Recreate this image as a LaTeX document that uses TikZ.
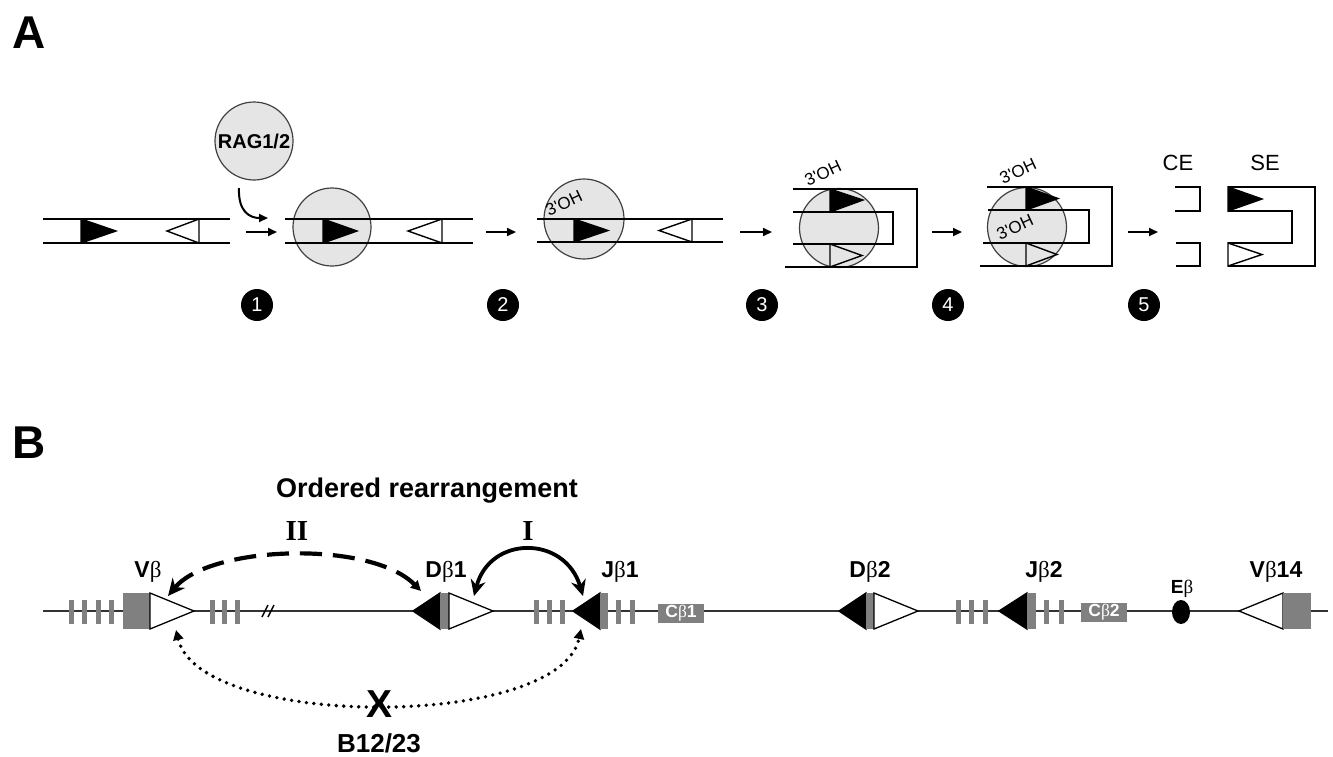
\documentclass[tikz,border=0pt]{standalone}
\usepackage{fontspec}
\setmainfont{Liberation Sans}
\newfontfamily\grk{Liberation Serif}
\usetikzlibrary{arrows.meta,shapes.geometric}
\newcommand\bt{{\grk\mdseries β}}
\definecolor{ragfill}{gray}{0.9}
\definecolor{segray}{gray}{0.5}
\tikzset{
  dna/.style={line width=2.2pt, line join=miter},
  rag/.style={circle, draw=black!75, fill=ragfill, line width=1.2pt, minimum size=#1, inner sep=0pt},
  fwd/.style={-{Triangle[length=9pt,width=8pt]}, line width=2pt},
  stepno/.style={circle, fill=black, text=white, minimum size=32pt, inner sep=0pt, font=\fontsize{20}{20}\selectfont},
  oh/.style={anchor=base west, rotate=25, inner sep=0pt, font=\fontsize{17}{17}\selectfont},
  rss/.style={draw=black, line width=1.4pt, line join=miter},
  openrss/.style={draw=black, fill=white, line width=1.3pt, line join=miter},
  gene/.style={anchor=base, inner sep=0pt, font=\bfseries\fontsize{23}{23}\selectfont},
  cbox/.style={fill=segray, text=white, minimum width=46pt, minimum height=19pt, inner sep=0pt, font=\bfseries\fontsize{17.5}{17.5}\selectfont},
}
\begin{document}
\begin{tikzpicture}[x=1pt, y=-1pt]
\useasboundingbox (0,0) rectangle (1333,756);
\node[anchor=base west, inner sep=0pt, font=\bfseries\fontsize{46}{46}\selectfont] (pa) at (12,48) {A};
\node[anchor=base west, inner sep=0pt, font=\bfseries\fontsize{46}{46}\selectfont] (pb) at (12,458) {B};

\draw[dna] (43,219) -- (230,219) (43,243) -- (230,243);
\filldraw[rss] (81,219) -- (116,231) -- (81,243) -- cycle;
\draw[rss] (199,219) -- (167,231) -- (199,243) -- cycle;

\node[rag=78pt, font=\bfseries\fontsize{20}{20}\selectfont] (rag) at (254,141) {RAG1/2};
\coordinate (ragin) at (239,188);
\coordinate (ragout) at (268,218);
\draw[fwd] (ragin) .. controls (238,212) and (250,218) .. (ragout);
\foreach \a/\b in {246/277, 486/516, 740/772, 932/962, 1128/1158}
  \draw[fwd] (\a,232) -- (\b,232);
\foreach \x/\n in {257/1, 503/2, 762/3, 948/4, 1144/5}
  \node[stepno] (s\n) at (\x,305) {\n};

\node[rag=78pt] (c1) at (332,227) {};
\draw[dna] (285,219) -- (473,219) (285,243) -- (473,243);
\filldraw[rss] (323,219) -- (357,231) -- (323,243) -- cycle;
\draw[rss] (442,219) -- (408,231) -- (442,243) -- cycle;

\node[rag=80pt] (c2) at (584,219) {};
\draw[dna] (537,219) -- (723,219) (537,242) -- (723,242);
\filldraw[rss] (574,219) -- (608,230.5) -- (574,242) -- cycle;
\draw[rss] (692,219) -- (659,230.5) -- (692,242) -- cycle;
\node[oh] (oh2) at (549,217) {3\textquotesingle OH};

\node[rag=79pt] (c3) at (839,228) {};
\draw[dna] (793,189) -- (917,189) -- (917,267) -- (785,267);
\draw[dna] (793,212) -- (893,212) -- (893,244) -- (793,244);
\filldraw[rss] (830,189) -- (863,200) -- (830,212) -- cycle;
\draw[rss] (830,244) -- (862,255.5) -- (830,267) -- cycle;
\node[oh] (oh3) at (808,187) {3\textquotesingle OH};

\node[rag=79pt] (c4) at (1027,227) {};
\draw[dna] (987,187) -- (1112,187) -- (1112,266) -- (980,266);
\draw[dna] (988,210) -- (1089,210) -- (1089,243) -- (983,243);
\filldraw[rss] (1026,187) -- (1058,198.5) -- (1026,210) -- cycle;
\draw[rss] (1026,243) -- (1057,254.5) -- (1026,266) -- cycle;
\node[oh] (oh4a) at (1003,185) {3\textquotesingle OH};
\node[oh] (oh4b) at (1000,241) {3\textquotesingle OH};

\draw[dna] (1175,187) -- (1200,187) -- (1200,211) -- (1175,211);
\draw[dna] (1176,243) -- (1200,243) -- (1200,266) -- (1176,266);
\draw[dna] (1228,211) -- (1292,211) -- (1292,243) -- (1228,243);
\draw[dna] (1228,187) -- (1315,187) -- (1315,266) -- (1228,266);
\filldraw[rss] (1228,187) -- (1262,199) -- (1228,211) -- cycle;
\draw[rss] (1228,243) -- (1262,254.5) -- (1228,266) -- cycle;
\node[anchor=base, font=\fontsize{22}{22}\selectfont] (ce) at (1178,170) {CE};
\node[anchor=base, font=\fontsize{22}{22}\selectfont] (se) at (1265,170) {SE};

\draw[line width=1.5pt, black!80] (43,611) -- (1328,611);
\foreach \x in {71,84,98,111,212,224,237,536,549,562,618,632,958,971,985,1046,1061}
  \fill[segray] (\x-2.5,600) rectangle (\x+2.5,624);
\draw[line width=1.5pt] (262,617) -- (268,605) (268,617) -- (274,605);

\fill[segray] (123,593) rectangle (150,629);
\filldraw[openrss] (150,593) -- (194,611) -- (150,629) -- cycle;
\filldraw[rss] (440,593) -- (413,611) -- (440,629) -- cycle;
\fill[segray] (440,593) rectangle (449,629);
\filldraw[openrss] (449,593) -- (493,611) -- (449,629) -- cycle;
\filldraw[rss] (600,593) -- (573,611) -- (600,629) -- cycle;
\fill[segray] (600,593) rectangle (608,629);
\node[cbox] (cb1) at (681,613) {C\bt1};
\filldraw[rss] (866,593) -- (839,611) -- (866,629) -- cycle;
\fill[segray] (866,593) rectangle (874,629);
\filldraw[openrss] (874,593) -- (918,611) -- (874,629) -- cycle;
\filldraw[rss] (1027,593) -- (999,611) -- (1027,629) -- cycle;
\fill[segray] (1027,593) rectangle (1036,629);
\node[cbox] (cb2) at (1104,612) {C\bt2};
\node[ellipse, fill=black, minimum width=18pt, minimum height=24pt, inner sep=0pt] (eb) at (1181,612) {};
\filldraw[openrss] (1283,593) -- (1239,611) -- (1283,629) -- cycle;
\fill[segray] (1283,593) rectangle (1311,629);

\node[gene] (vb) at (148,577) {V\bt};
\node[gene] (db1) at (446,577) {D\bt1};
\node[gene] (jb1) at (620,577) {J\bt1};
\node[gene] (db2) at (870,577) {D\bt2};
\node[gene] (jb2) at (1044,577) {J\bt2};
\node[gene] (vb14) at (1276,577) {V\bt14};
\node[gene, font=\bfseries\fontsize{19}{19}\selectfont] (eblbl) at (1182,593) {E\bt};
\node[anchor=base, font=\bfseries\fontsize{27}{27}\selectfont] (ord) at (427,497) {Ordered rearrangement};
\node[anchor=base, font=\grk\bfseries\fontsize{29}{29}\selectfont] (two) at (297,540) {II};
\node[anchor=base, font=\grk\bfseries\fontsize{29}{29}\selectfont] (one) at (528,540) {I};

\coordinate (vbtop) at (168,596);
\coordinate (vbbot) at (176,630);
\coordinate (d1l) at (421,591);
\coordinate (d1r) at (474,596);
\coordinate (j1top) at (583,596);
\coordinate (j1bot) at (581,629);
\draw[line width=3.8pt, {Stealth[length=16pt,width=15pt]}-{Stealth[length=16pt,width=15pt]}] (d1r) .. controls (490,535) and (565,535) .. (j1top);
\draw[line width=4.2pt, dash pattern=on 22pt off 11pt, {Triangle[length=10pt,width=10pt]}-{Stealth[length=17pt,width=16pt]}] (d1l) .. controls (370,540) and (210,545) .. (vbtop);
\draw[line width=3.8pt, line cap=round, dash pattern=on 0pt off 7.5pt, {Triangle[length=10pt,width=10pt]}-{Triangle[length=10pt,width=10pt]}] (vbbot) .. controls (200,730) and (560,730) .. (j1bot);
\node[inner sep=0pt, font=\bfseries\fontsize{39}{39}\selectfont] (blk) at (380,704) {X};
\node[anchor=base, font=\bfseries\fontsize{26}{26}\selectfont] (b1223) at (379,752) {B12/23};
\end{tikzpicture}
\end{document}
